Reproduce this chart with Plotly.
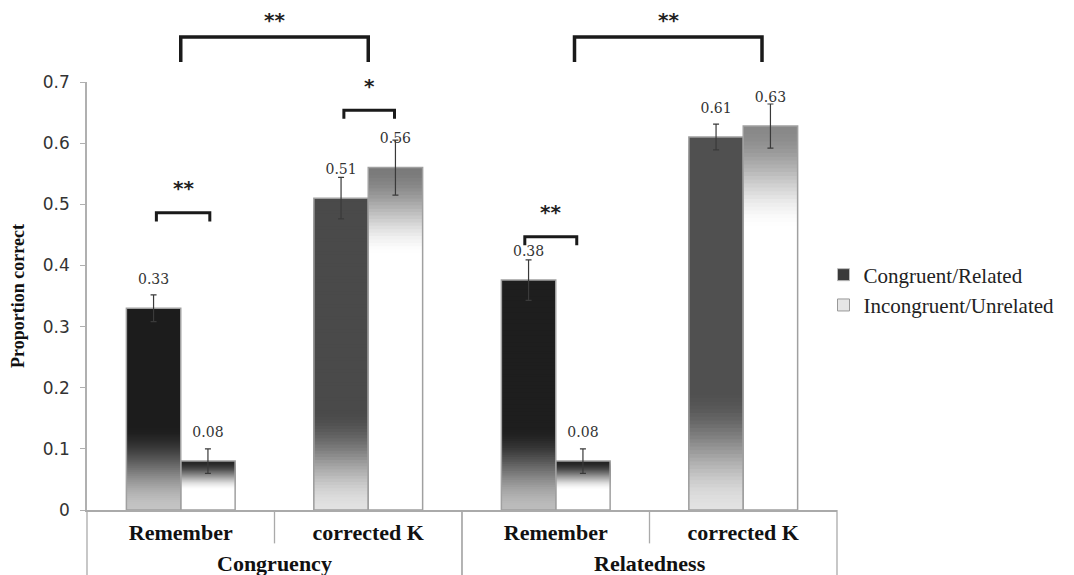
import plotly.graph_objects as go

# ---------------- data ----------------
groups = ["Congruency", "Congruency", "Relatedness", "Relatedness"]
measures = ["Remember", "corrected K", "Remember", "corrected K"]
series_names = ["Congruent/Related", "Incongruent/Unrelated"]
congruent_related = [0.33, 0.51, 0.376, 0.61]
incongruent_unrelated = [0.08, 0.56, 0.08, 0.628]
err_congruent_related = [0.022, 0.034, 0.033, 0.021]
err_incongruent_unrelated = [0.02, 0.045, 0.02, 0.036]
y_tick_vals = [0, 0.1, 0.2, 0.3, 0.4, 0.5, 0.6, 0.7]
y_tick_text = ["0", "0.1", "0.2", "0.3", "0.4", "0.5", "0.6", "0.7"]
y_title = "Proportion correct"

# significance marks
big_sig_from = [0.0, 2.1]
big_sig_to = [1.0, 3.1]
big_sig_labels = ["**", "**"]
small_sig_cat = [0, 1, 2]
small_sig_left = [-0.13, -0.13, -0.165]
small_sig_right = [0.155, 0.14, 0.112]
small_sig_level = [0.486, 0.654, 0.447]
small_sig_labels = ["**", "*", "**"]

# ---------------- styles ----------------
dark_top = ["#1c1c1c", "#4a4a4a", "#1e1e1e", "#505050"]
dark_bottom = ["#c4c4c4", "#e2e2e2", "#bcbcbc", "#e2e2e2"]
dark_fade = [0.42, 0.32, 0.36, 0.32]
light_top = ["#262626", "#7a7a7a", "#222222", "#888888"]
light_fade = [0.6, 0.26, 0.6, 0.27]
BAR_W = 0.29
N_LAYERS = 100


def hex2rgb(h):
    h = h.lstrip("#")
    return tuple(int(h[i:i + 2], 16) for i in (0, 2, 4))


def mix(c1, c2, f):
    a, b = hex2rgb(c1), hex2rgb(c2)
    f = max(0.0, min(1.0, f))
    return "rgb(%d,%d,%d)" % tuple(round(a[i] + (b[i] - a[i]) * f) for i in range(3))


def smooth(s):
    s = max(0.0, min(1.0, s))
    return s * s * (3 - 2 * s)


def dark_color(i, t):
    f = dark_fade[i]
    return mix(dark_bottom[i], dark_top[i], smooth(t / f))


def light_color(i, t):
    f = light_fade[i]
    return mix("#ffffff", light_top[i], smooth((t - (1 - f)) / f))


x_pos = list(range(len(measures)))
fig = go.Figure()

series = [
    (congruent_related, err_congruent_related, dark_color, -BAR_W),
    (incongruent_unrelated, err_incongruent_unrelated, light_color, 0.0),
]

for vals, errs, cfun, off in series:
    for k in range(N_LAYERS):
        h = 1 - k / N_LAYERS
        t = h - 0.5 / N_LAYERS
        fig.add_trace(go.Bar(
            x=x_pos, y=[v * h for v in vals],
            width=BAR_W, offset=off,
            marker=dict(color=[cfun(i, t) for i in range(len(vals))], line=dict(width=0)),
            showlegend=False, hoverinfo="skip",
        ))

for vals, errs, cfun, off in series:
    fig.add_trace(go.Bar(
        x=x_pos, y=vals, width=BAR_W, offset=off,
        marker=dict(color="rgba(0,0,0,0)", line=dict(color="#a0a0a0", width=1.5)),
        error_y=dict(type="data", array=errs, color="#3a3a3a", thickness=1.2, width=3),
        texttemplate="%{y:.2f}<br> ", textposition="outside", cliponaxis=False,
        textfont=dict(family="DejaVu Serif", size=14, color="#333"),
        showlegend=False, hoverinfo="skip",
    ))

# legend entries
legend_fill = ["#3a3a3a", "#e6e6e6"]
legend_line = ["#bbbbbb", "#999999"]
for name, fc, lc in zip(series_names, legend_fill, legend_line):
    fig.add_trace(go.Bar(
        x=[x_pos[0]], y=[None], name=name,
        marker=dict(color=fc, line=dict(color=lc, width=1)),
        showlegend=True, hoverinfo="skip",
    ))

# ---------------- annotations / brackets ----------------
n_cat = len(measures)


def xfrac(pos):
    return (pos + 0.5) / n_cat


shapes = []
annotations = []
star_font = dict(family="DejaVu Sans", size=20, color="#222", weight="bold")
for a, b, lab in zip(big_sig_from, big_sig_to, big_sig_labels):
    x0, x1 = xfrac(a), xfrac(b)
    shapes.append(dict(type="path", xref="paper", yref="paper",
                       path=f"M {x0},1.047 L {x0},1.105 L {x1},1.105 L {x1},1.047",
                       line=dict(color="#1a1a1a", width=3.5)))
    annotations.append(dict(x=(x0 + x1) / 2, y=1.145, xref="paper", yref="paper",
                            xanchor="center", yanchor="middle", text=lab, showarrow=False,
                            font=star_font))

for c, l, r, lev, lab in zip(small_sig_cat, small_sig_left, small_sig_right, small_sig_level, small_sig_labels):
    x0, x1 = xfrac(c + l), xfrac(c + r)
    shapes.append(dict(type="path", xref="paper", yref="y",
                       path=f"M {x0},{lev - 0.014} L {x0},{lev} L {x1},{lev} L {x1},{lev - 0.014}",
                       line=dict(color="#1a1a1a", width=3)))
    annotations.append(dict(x=(x0 + x1) / 2, y=lev + 0.04, xref="paper", yref="y",
                            xanchor="center", yanchor="middle", text=lab, showarrow=False,
                            font=star_font))

# group labels under the category labels, and dividers
group_names = []
for g in groups:
    if g not in group_names:
        group_names.append(g)
for g in group_names:
    idx = [i for i, gg in enumerate(groups) if gg == g]
    annotations.append(dict(x=xfrac(sum(idx) / len(idx)), y=-0.124, xref="paper", yref="paper",
                            xanchor="center", yanchor="middle", text=g, showarrow=False,
                            font=dict(family="Liberation Serif", size=22, color="#111", weight="bold")))
    for edge in (min(idx) - 0.5, max(idx) + 0.5):
        shapes.append(dict(type="line", xref="paper", yref="paper", x0=xfrac(edge), x1=xfrac(edge),
                           y0=0, y1=-0.16, line=dict(color="#aaaaaa", width=1.3)))
    for inner in idx[:-1]:
        shapes.append(dict(type="line", xref="paper", yref="paper", x0=xfrac(inner + 0.5),
                           x1=xfrac(inner + 0.5), y0=0, y1=-0.078,
                           line=dict(color="#aaaaaa", width=1.3)))

fig.update_layout(
    width=1066, height=567,
    margin=dict(l=79, r=237, t=74, b=65),
    plot_bgcolor="white", paper_bgcolor="white",
    barmode="overlay",
    showlegend=True,
    legend=dict(x=0.982, y=0.514, xanchor="left", yanchor="middle",
                font=dict(family="Liberation Serif", size=21, color="#222"),
                bgcolor="rgba(0,0,0,0)", tracegroupgap=0),
    shapes=shapes, annotations=annotations,
    xaxis=dict(range=[-0.5, n_cat - 0.5], tickvals=x_pos, ticktext=measures,
               showline=True, linecolor="#aaaaaa", linewidth=2, showgrid=False, zeroline=False,
               ticks="", automargin=False, ticklabelstandoff=2,
               tickfont=dict(family="Liberation Serif", size=22, color="#111", weight="bold")),
    yaxis=dict(range=[0, 0.7], tickvals=y_tick_vals, ticktext=y_tick_text,
               showline=True, linecolor="#b0b0b0", linewidth=1.5, showgrid=False, zeroline=False,
               ticks="outside", ticklen=5, tickcolor="#b0b0b0", automargin=False,
               ticklabelstandoff=7,
               tickfont=dict(family="DejaVu Sans", size=17, color="#333"),
               title=dict(text=y_title, standoff=20,
                          font=dict(family="Liberation Serif", size=18, color="#111", weight="bold"))),
)

fig.write_html("out.html")
